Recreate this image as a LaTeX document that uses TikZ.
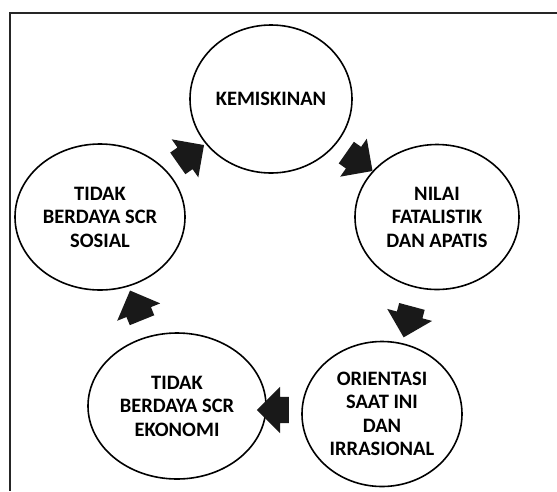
\documentclass[tikz,border=0pt]{standalone}
\usepackage{fontspec}
\setmainfont{Carlito}
\usetikzlibrary{shapes.geometric,shapes.arrows,calc}

\begin{document}
\begin{tikzpicture}[x=1pt,y=-1pt]
\tikzstyle{every node}+=[inner sep=0pt]
\tikzstyle{lingkaran}=[draw=black, line width=1.6pt, ellipse, align=center, font=\bfseries\fontsize{20.5}{23.5}\selectfont]
\tikzstyle{panah}=[single arrow, fill=black!90, inner ysep=13pt, minimum height=32pt, minimum width=46pt, single arrow head extend=10pt]
\useasboundingbox (0,0) rectangle (557,491);
\draw [black!85, line width=2.6pt] (557,13) -- (10,13) -- (10,491);
\node [lingkaran, minimum width=162pt, minimum height=148pt] (kemis) at (271,99) {KEMISKINAN};
\node [lingkaran, minimum width=164pt, minimum height=145pt] (nilai) at (437,217) {NILAI\\FATALISTIK\\DAN APATIS};
\node [lingkaran, minimum width=160pt, minimum height=145pt] (orien) at (382,414) {ORIENTASI\\SAAT INI\\DAN\\IRRASIONAL};
\node [lingkaran, minimum width=178pt, minimum height=146pt] (ekon) at (177,406) {TIDAK\\BERDAYA SCR\\EKONOMI};
\node [lingkaran, minimum width=170pt, minimum height=146pt] (sosial) at (100,217) {TIDAK\\BERDAYA SCR\\SOSIAL};
\node [panah, rotate=35] (p1) at ($(sosial)!0.5!(kemis)$) {};
\node [panah, rotate=-35] (p2) at ($(kemis)!0.5!(nilai)$) {};
\node [panah, rotate=-105] (p3) at ($(nilai)!0.5!(orien)$) {};
\node [panah, rotate=180] (p4) at ($(orien)!0.5!(ekon)$) {};
\node [panah, rotate=112] (p5) at ($(ekon)!0.5!(sosial)$) {};
\end{tikzpicture}
\end{document}
